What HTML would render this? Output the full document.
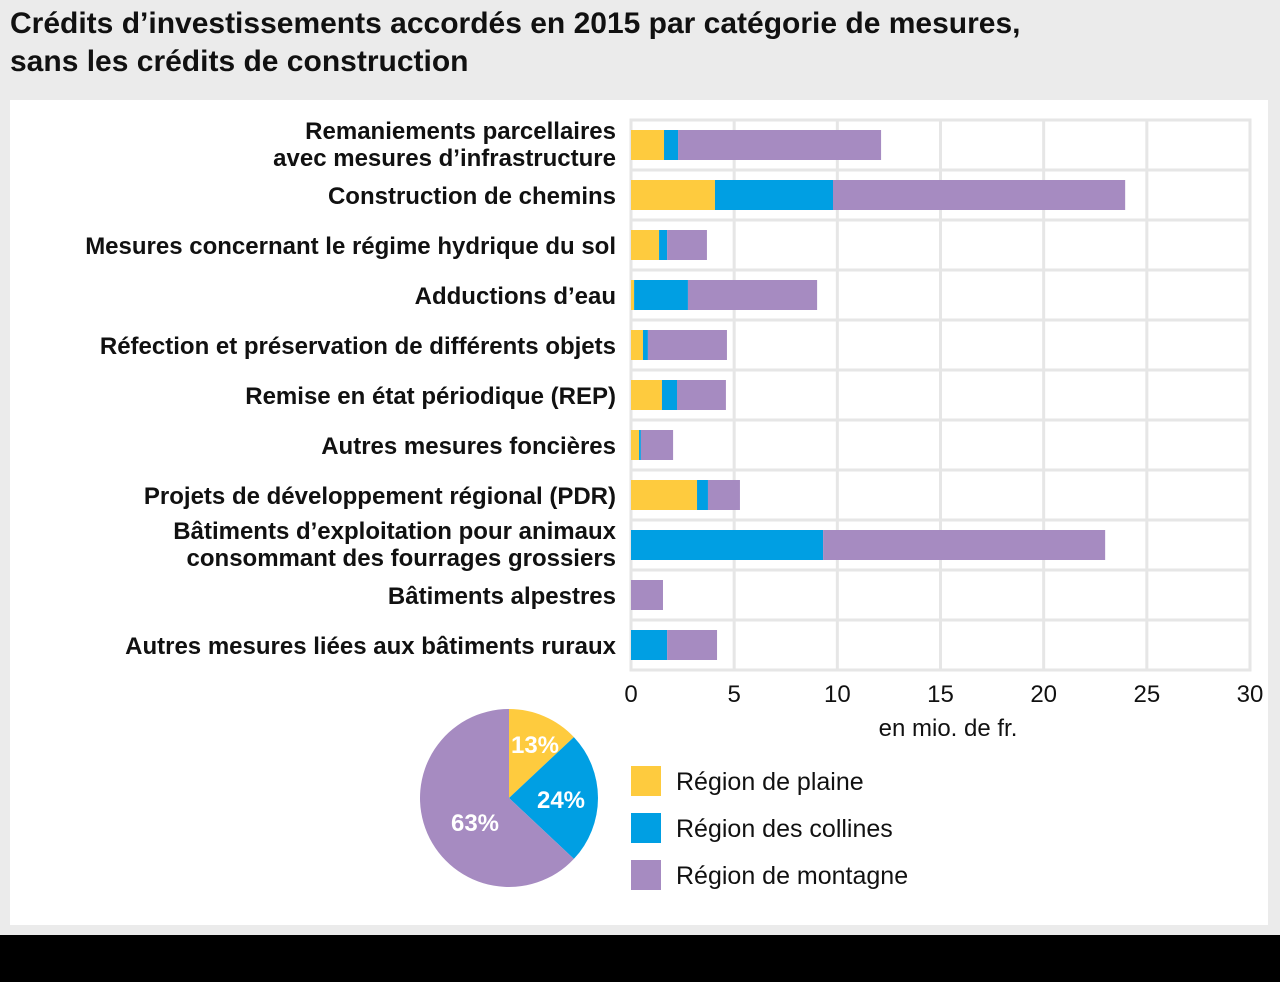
<!DOCTYPE html>
<html><head><meta charset="utf-8">
<style>
html,body{margin:0;padding:0;}
body{width:1280px;height:982px;background:#ebebeb;position:relative;overflow:hidden;font-family:"Liberation Sans Narrow","Liberation Sans",sans-serif;}
#title{position:absolute;left:10px;top:5px;font-size:30px;font-weight:bold;line-height:38px;color:#111;}
#panel{position:absolute;left:10px;top:100px;width:1258px;height:825px;background:#fff;}
#footer{position:absolute;left:0;top:935px;width:1280px;height:47px;background:#000;}
svg{position:absolute;left:0;top:0;}
</style></head><body>
<div id="title">Crédits d’investissements accordés en 2015 par catégorie de mesures,<br>sans les crédits de construction</div>
<div id="panel"></div>
<div id="footer"></div>
<svg id="chart" width="1280" height="982"></svg>
<script>
const categories=[["Remaniements parcellaires","avec mesures d’infrastructure"],["Construction de chemins"],["Mesures concernant le régime hydrique du sol"],["Adductions d’eau"],["Réfection et préservation de différents objets"],["Remise en état périodique (REP)"],["Autres mesures foncières"],["Projets de développement régional (PDR)"],["Bâtiments d’exploitation pour animaux ","consommant des fourrages grossiers"],["Bâtiments alpestres"],["Autres mesures liées aux bâtiments ruraux"]];
const plaine=[1.6,4.07,1.36,0.15,0.58,1.5,0.39,3.2,0,0,0];
const collines=[0.68,5.72,0.39,2.61,0.24,0.73,0.09,0.53,9.31,0,1.75];
const montagne=[9.84,14.16,1.93,6.26,3.83,2.37,1.56,1.55,13.67,1.55,2.42];
const ticks=[0,5,10,15,20,25,30];
const pieLabels=["13%","24%","63%"];
const pieValues=[13,24,63];
const seriesNames=["Région de plaine","Région des collines","Région de montagne"];
const colors=["#fecb3e","#009fe3","#a68bc1"];

const svg=document.getElementById('chart');
const NS="http://www.w3.org/2000/svg";
function mk(t,a,p){const e=document.createElementNS(NS,t);for(const k in a)e.setAttribute(k,a[k]);(p||svg).appendChild(e);return e;}
const x0=631,x1=1250,y0=120,rowH=50;
const xs=v=>x0+(v/30)*(x1-x0);
const yr=i=>y0+i*rowH;
const grid=mk('g',{});


mk('rect',{x:x0,y:y0,width:x1-x0,height:rowH*categories.length,fill:'#fff',stroke:'#e6e6e6','stroke-width':3},grid);
ticks.forEach(t=>{mk('line',{x1:xs(t),x2:xs(t),y1:y0,y2:y0+rowH*categories.length,stroke:'#e6e6e6','stroke-width':3},grid);});
for(let i=1;i<categories.length;i++)mk('line',{x1:x0,x2:x1,y1:yr(i),y2:yr(i),stroke:'#e6e6e6','stroke-width':3},grid);
ticks.forEach(t=>{const e=mk('text',{x:xs(t),y:702,'text-anchor':'middle','font-size':24,fill:'#111'});e.textContent=t;

});
const at=mk('text',{x:948,y:736,'text-anchor':'middle','font-size':24,fill:'#111'});at.textContent='en mio. de fr.';


const series=[plaine,collines,montagne];
categories.forEach((c,i)=>{
  let acc=0;
  series.forEach((s,k)=>{
    const v=s[i];
    if(v>0){const r=mk('rect',{x:xs(acc),y:yr(i)+10,width:xs(acc+v)-xs(acc),height:30,fill:colors[k]});
    
    }
    acc+=v;
  });
  const cy=yr(i)+25;
  c.forEach((line,j)=>{
    const ty=c.length===1?cy+9:cy-6+j*27;
    const e=mk('text',{x:616,y:ty,'text-anchor':'end','font-size':24,'font-weight':'bold',fill:'#111'});
    e.textContent=line;
    
    
  });
});
const cx=509,cy=798,R=89;
let a=0;const tot=pieValues.reduce((p,q)=>p+q,0);
const lp=[[535,753],[561,808],[475,831]];
pieValues.forEach((v,k)=>{
  const a1=a+v/tot*2*Math.PI;
  const p=(ang)=>[cx+R*Math.sin(ang),cy-R*Math.cos(ang)];
  const [sx,sy]=p(a),[ex,ey]=p(a1);
  const s=mk('path',{d:`M${cx},${cy}L${sx},${sy}A${R},${R} 0 ${a1-a>Math.PI?1:0} 1 ${ex},${ey}Z`,fill:colors[k]});
  
  
  const t=mk('text',{x:lp[k][0],y:lp[k][1],'text-anchor':'middle','font-size':24,'font-weight':'bold',fill:'#fff'});
  t.textContent=pieLabels[k];
  
  
  a=a1;
});
seriesNames.forEach((n,k)=>{
  const g=mk('g',{});
  
  
  mk('rect',{x:631,y:766+k*47,width:30,height:30,fill:colors[k]},g);
  const t=mk('text',{x:676,y:790+k*47,'font-size':25,fill:'#111'},g);t.textContent=n;
});
</script>
</body></html>
